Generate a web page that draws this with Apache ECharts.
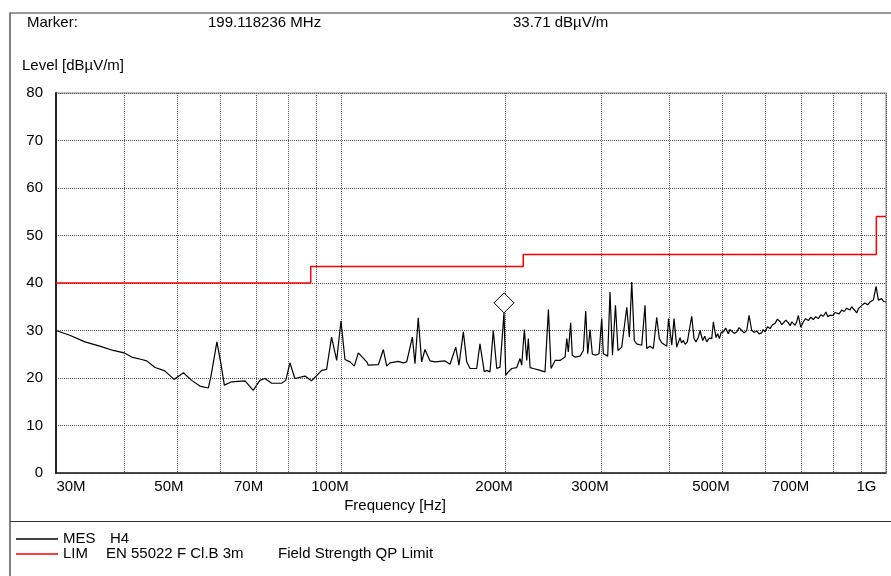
<!DOCTYPE html>
<html>
<head>
<meta charset="utf-8">
<script src="https://cdn.jsdelivr.net/npm/echarts@6/dist/echarts.min.js"></script>
<style>
  html, body { margin: 0; padding: 0; background: #fff; }
  #chart { width: 891px; height: 576px; }
</style>
</head>
<body>
<div id="chart"></div>
<script>
const FONT = '"Liberation Sans", Arial, Helvetica, sans-serif';

// Measured trace (frequency in MHz, level in dBµV/m)
const mesFreq = [
  30.0, 31.8, 33.9, 36.1, 38.2, 40.0, 41.3, 43.1, 44.0, 45.6, 47.5, 49.4, 51.4, 53.2, 55.1,
  57.1, 57.7, 59.2, 60.2, 61.1, 63.0, 66.7, 69.0, 71.0, 72.5, 74.6, 77.8, 79.2, 80.6, 82.3,
  85.9, 88.3, 92.2, 94.1, 96.1, 98.2, 100.0, 101.7, 103.9, 105.8, 107.6, 111.5, 112.2, 117.1,
  119.6, 121.3, 123.0, 127.4, 130.1, 132.0, 135.2, 136.7, 138.6, 140.6, 142.6, 145.7, 148.8,
  155.2, 158.5, 162.4, 164.6, 167.7, 170.1, 172.5, 177.4, 179.9, 183.2, 185.1, 187.7, 190.3,
  193.1, 195.8, 199.118236, 200.6, 202.8, 205.7, 210.1, 213.1, 214.6, 217.0, 219.2, 220.7,
  222.3, 225.4, 231.9, 236.8, 240.2, 242.9, 247.1, 252.3, 257.7, 259.6, 261.3, 263.9, 265.7,
  268.8, 274.6, 278.4, 281.2, 283.6, 286.4, 289.2, 293.4, 297.5, 300.9, 302.9, 308.6, 311.6,
  314.9, 318.9, 322.3, 327.4, 334.5, 338.1, 341.6, 345.3, 348.8, 356.3, 361.3, 363.9, 369.0,
  374.2, 379.6, 383.8, 387.7, 396.0, 399.0, 404.5, 408.4, 413.1, 418.9, 421.5, 424.8, 428.0,
  432.0, 440.1, 444.4, 448.0, 452.6, 455.8, 461.0, 465.0, 468.9, 474.0, 478.9, 482.2, 487.7,
  491.0, 494.6, 498.5, 503.0, 508.0, 513.7, 517.0, 521.1, 526.5, 532.3, 537.5, 543.7, 549.0,
  555.2, 560.7, 567.1, 573.0, 579.2, 585.0, 591.6, 595.0, 599.9, 606.0, 612.8, 619.0, 625.9,
  632.0, 639.1, 643.5, 648.2, 655.0, 662.0, 667.0, 671.6, 676.0, 681.0, 686.0, 690.4, 697.4,
  705.2, 712.0, 720.3, 728.0, 735.6, 743.0, 751.3, 759.0, 767.4, 776.1, 782.0, 789.4, 800.4,
  806.0, 812.1, 820.0, 829.4, 838.0, 847.0, 858.9, 865.0, 871.0, 877.0, 883.7, 890.0, 896.0,
  905.0, 915.1, 925.0, 934.7, 947.9, 958.9, 968.2, 982.0, 990.0, 995.9, 1000.0
];
const mesLevel = [
  30.0, 29.0, 27.6, 26.7, 25.8, 25.3, 24.4, 23.9, 23.6, 22.2, 21.5, 19.7, 21.1, 19.5, 18.3,
  17.9, 20.2, 27.6, 23.1, 18.5, 19.2, 19.4, 17.4, 19.5, 19.9, 18.9, 18.9, 19.5, 23.2, 19.9,
  20.4, 19.4, 21.6, 21.8, 28.6, 23.7, 32.0, 23.9, 23.4, 22.5, 25.3, 23.4, 22.7, 22.8,
  26.0, 22.5, 23.2, 23.5, 23.2, 23.4, 28.6, 23.0, 32.7, 23.4, 26.0, 23.6, 23.4,
  23.6, 22.9, 26.5, 22.7, 29.7, 23.4, 22.0, 22.0, 27.2, 21.3, 21.6, 21.3, 30.0,
  22.0, 22.3, 33.71, 20.6, 21.3, 22.0, 22.2, 24.1, 22.7, 30.2, 23.7, 28.3,
  22.2, 22.0, 21.6, 21.3, 34.4, 22.0, 23.7, 23.7, 24.4, 28.3, 25.5, 31.6, 24.8,
  24.4, 24.6, 25.8, 34.1, 25.1, 30.2, 25.0, 24.8, 25.1, 32.5, 25.1, 24.6, 38.1,
  24.8, 35.3, 25.8, 26.5, 34.9, 28.6, 40.2, 27.9, 27.2, 26.9, 35.3, 26.2, 26.7,
  26.2, 32.8, 28.3, 27.4, 26.7, 32.5, 26.9, 32.5, 26.5, 28.5, 27.4, 27.9, 27.1,
  27.6, 33.0, 28.3, 27.6, 28.6, 30.0, 27.9, 28.8, 27.6, 28.4, 28.3, 31.8, 28.5,
  29.3, 28.3, 29.6, 29.7, 30.5, 29.3, 30.2, 30.4, 29.4, 29.7, 30.6, 30.0, 29.5,
  30.0, 33.2, 30.0, 29.6, 29.9, 29.3, 29.5, 30.2, 29.7, 30.8, 30.4, 31.2, 31.5,
  32.4, 31.9, 31.2, 31.6, 32.2, 31.6, 31.0, 31.8, 32.0, 31.1, 31.9, 33.2, 30.7,
  31.8, 32.5, 32.1, 32.8, 32.3, 32.9, 32.5, 33.3, 33.0, 33.9, 32.9, 33.2, 33.2,
  33.8, 33.9, 33.5, 34.3, 34.0, 34.7, 34.3, 35.0, 35.3, 34.2, 33.7, 34.6, 34.9,
  35.4, 35.8, 35.4, 36.0, 36.4, 39.3, 36.4, 36.7, 36.1, 35.8, 36.0
];

// Limit line EN 55022 class B, 3 m (step points, MHz / dBµV/m)
const limFreq = [30, 88, 216, 960, 1000];
const limLevel = [40, 43.5, 46, 54, 54];

// Axis ticks
const gridFreq = [30, 40, 50, 60, 70, 80, 90, 100, 200, 300, 400, 500, 600, 700, 800, 900, 1000];
const tickFreq = [30, 50, 70, 100, 200, 300, 500, 700, 1000];
const tickLabels = ['30M', '50M', '70M', '100M', '200M', '300M', '500M', '700M', '1G'];

// Marker readout
const markerFreq = 199.118236;
const markerLevel = 33.71;

// Legend entries
const traceNames = ['MES', 'LIM'];
const traceInfo = ['H4', 'EN 55022 F Cl.B 3m'];
const traceNote = ['', 'Field Strength QP Limit'];

const txt = (extra) => Object.assign({ fontFamily: FONT, fontSize: 15, color: '#000' }, extra || {});

function tickLabelFormatter(v) {
  let idx = -1;
  for (let i = 0; i < tickFreq.length; i++) {
    if (Math.abs(v - tickFreq[i]) / tickFreq[i] < 1e-6) { idx = i; break; }
  }
  if (idx < 0) return '';
  const t = tickLabels[idx];
  let key;
  if (idx === 0) key = 'first';
  else if (idx === tickFreq.length - 1) key = 'last';
  else key = t.length <= 3 ? 's' : 'w';
  return '{' + key + '|' + t + '}';
}

const chart = echarts.init(document.getElementById('chart'), null, { renderer: 'canvas' });

chart.setOption({
  animation: false,
  backgroundColor: '#fff',
  textStyle: { fontFamily: FONT },
  grid: {
    left: 56, right: 5, top: 93, bottom: 103,
    show: true, borderColor: '#bdbdbd', borderWidth: 2, backgroundColor: 'transparent'
  },
  xAxis: {
    type: 'log', logBase: 10, min: 30, max: 1000,
    axisLine: { show: true, lineStyle: { color: '#222', width: 1.5 } },
    axisTick: { show: false, customValues: gridFreq },
    splitLine: { show: true, lineStyle: { color: '#555', width: 1, type: [1, 1] } },
    axisLabel: {
      customValues: tickFreq,
      margin: 6,
      formatter: tickLabelFormatter,
      rich: {
        first: txt({ padding: [0, 0, 0, 30] }),
        s: txt({ padding: [0, 16, 0, 0] }),
        w: txt({ padding: [0, 22, 0, 0] }),
        last: txt({ padding: [0, 39, 0, 0] })
      }
    }
  },
  yAxis: {
    type: 'value', min: 0, max: 80, interval: 10,
    axisLine: { show: true, lineStyle: { color: '#222', width: 2 } },
    axisTick: { show: false },
    splitLine: { show: true, lineStyle: { color: '#555', width: 1, type: [1, 1] } },
    axisLabel: txt({ margin: 13 })
  },
  legend: {
    data: traceNames,
    orient: 'vertical',
    left: 16, top: 531.5,
    padding: 0,
    icon: 'rect',
    itemWidth: 42, itemHeight: 1.5, itemGap: 0,
    selectedMode: false,
    textStyle: txt({
      lineHeight: 15,
      rich: {
        n0: txt({ width: 47, lineHeight: 15 }),
        n1: txt({ width: 43, lineHeight: 15 }),
        i0: txt({ lineHeight: 15 }),
        i1: txt({ width: 172, lineHeight: 15 }),
        d: txt({ lineHeight: 15 })
      }
    }),
    formatter: function (name) {
      const i = traceNames.indexOf(name);
      let s = '{n' + i + '|' + name + '}{i' + i + '|' + traceInfo[i] + '}';
      if (traceNote[i]) s += '{d|' + traceNote[i] + '}';
      return s;
    }
  },
  graphic: [
    { type: 'rect', z: -10, silent: true,
      shape: { x: 10, y: 13, width: 900, height: 600 },
      style: { fill: 'none', stroke: '#333', lineWidth: 1.2 } },
    { type: 'line', silent: true,
      shape: { x1: 10, y1: 521.5, x2: 891, y2: 521.5 },
      style: { stroke: '#333', lineWidth: 1.2 } },
    { type: 'text', x: 27, y: 23, silent: true,
      style: { text: 'Marker:', fill: '#000', font: '15px ' + FONT, textAlign: 'left', textVerticalAlign: 'middle' } },
    { type: 'text', x: 208, y: 23, silent: true,
      style: { text: markerFreq.toFixed(6) + ' MHz', fill: '#000', font: '15px ' + FONT, textAlign: 'left', textVerticalAlign: 'middle' } },
    { type: 'text', x: 513, y: 23, silent: true,
      style: { text: markerLevel.toFixed(2) + ' dBµV/m', fill: '#000', font: '15px ' + FONT, textAlign: 'left', textVerticalAlign: 'middle' } },
    { type: 'text', x: 22, y: 66, silent: true,
      style: { text: 'Level [dBµV/m]', fill: '#000', font: '15px ' + FONT, textAlign: 'left', textVerticalAlign: 'middle' } },
    { type: 'text', x: 395, y: 506, silent: true,
      style: { text: 'Frequency [Hz]', fill: '#000', font: '15px ' + FONT, textAlign: 'center', textVerticalAlign: 'middle' } }
  ],
  series: [
    {
      name: 'MES', type: 'line',
      data: mesFreq.map((f, i) => [f, mesLevel[i]]),
      symbol: 'none', showSymbol: false,
      lineStyle: { color: '#000', width: 1.2 },
      itemStyle: { color: '#000' },
      z: 3,
      markPoint: {
        silent: true,
        symbol: 'diamond', symbolSize: 20, symbolOffset: [0, -10],
        itemStyle: { color: '#fff', borderColor: '#000', borderWidth: 1 },
        label: { show: false },
        data: [{ coord: [markerFreq, markerLevel] }]
      }
    },
    {
      name: 'LIM', type: 'line', step: 'end',
      data: limFreq.map((f, i) => [f, limLevel[i]]),
      symbol: 'none', showSymbol: false,
      lineStyle: { color: '#ff0000', width: 1.5 },
      itemStyle: { color: '#ff0000' },
      z: 2
    }
  ]
});
</script>
</body>
</html>
